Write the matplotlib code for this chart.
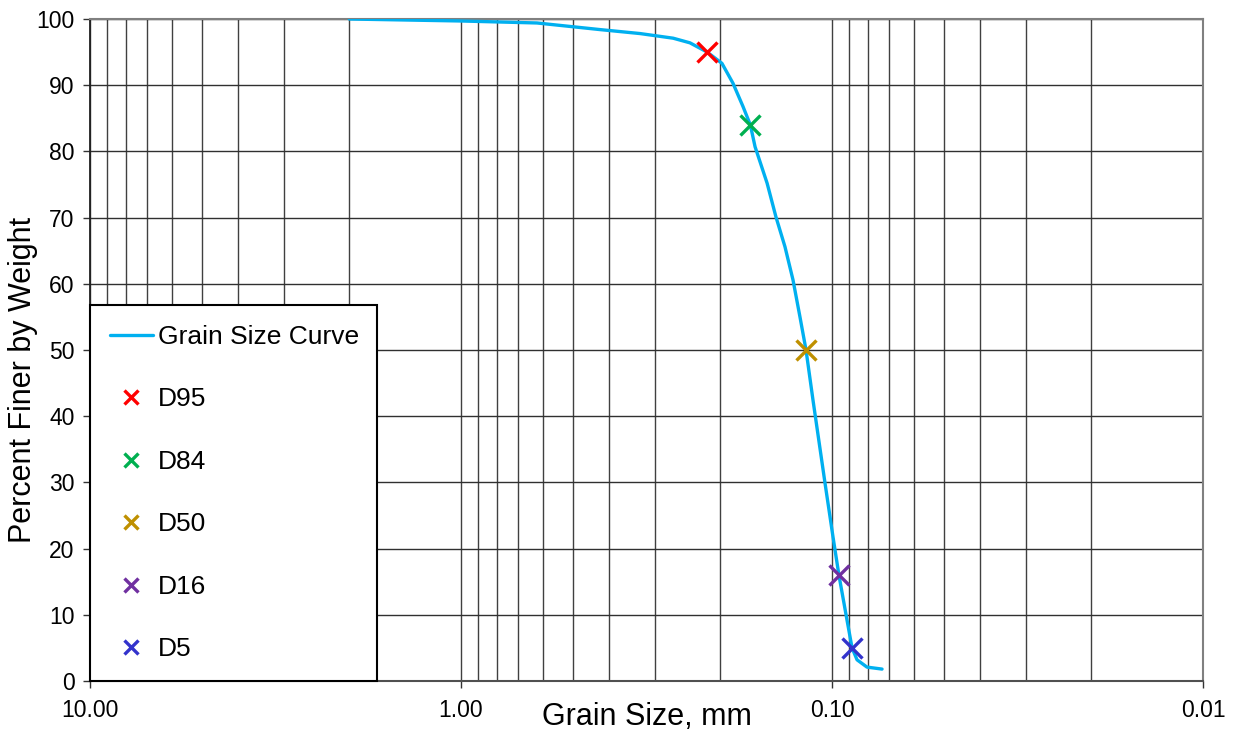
import numpy as np
import matplotlib
matplotlib.use("Agg")
import matplotlib.pyplot as plt
from matplotlib.ticker import LogLocator, FixedLocator, FixedFormatter, NullFormatter

plt.rcParams['font.family'] = ['Liberation Sans', 'DejaVu Sans']

# grain size curve (mm, % finer)
curve_size = [2.0, 1.0, 0.624, 0.422, 0.329, 0.268, 0.2415, 0.217, 0.198, 0.1849,
              0.1738, 0.166, 0.1612, 0.1496, 0.1416, 0.1339, 0.1274, 0.122,
              0.1175, 0.1125, 0.1045, 0.0994, 0.0958, 0.0911, 0.0883, 0.0856,
              0.0805, 0.0733]
curve_pct = [100, 99.7, 99.4, 98.4, 97.8, 97.1, 96.4, 95.0, 93.3, 90.3,
             86.8, 84.0, 80.7, 75.2, 70.1, 65.6, 60.6, 55.0,
             50.0, 42.4, 30.0, 21.8, 16.0, 9.2, 5.0, 3.2,
             2.1, 1.8]

# characteristic diameters
d_labels = ['D95', 'D84', 'D50', 'D16', 'D5']
d_size = [0.217, 0.166, 0.1175, 0.0958, 0.0883]
d_pct = [95, 84, 50, 16, 5]
d_colors = ['#FF0000', '#00B050', '#BF9000', '#7030A0', '#3333CC']

x_ticks = [10, 1, 0.1, 0.01]
x_ticklabels = ['10.00', '1.00', '0.10', '0.01']

fig = plt.figure(figsize=(12.36, 7.32), dpi=100)
ax = fig.add_axes([90 / 1236, 1 - 681 / 732, 1113 / 1236, 662 / 732])

ax.set_xscale('log')
ax.set_xlim(10, 0.01)
ax.set_ylim(0, 100)

ax.plot(curve_size, curve_pct, color='#00B0F0', lw=2.4, label='Grain Size Curve',
        solid_capstyle='round', solid_joinstyle='round', zorder=3)
for lab, s, p, c in zip(d_labels, d_size, d_pct, d_colors):
    ax.plot([s], [p], linestyle='none', marker='x', markersize=15, mew=2.4,
            color=c, label=lab, zorder=4)

# ticks and grid
ax.xaxis.set_major_locator(FixedLocator(x_ticks))
ax.xaxis.set_major_formatter(FixedFormatter(x_ticklabels))
ax.xaxis.set_minor_locator(LogLocator(base=10, subs=np.arange(2, 10)))
ax.xaxis.set_minor_formatter(NullFormatter())
ax.set_yticks(np.arange(0, 101, 10))
ax.tick_params(axis='both', which='major', direction='out', length=5, width=1,
               labelsize=16.5, color='#333333')
ax.tick_params(axis='x', which='minor', length=0)
ax.tick_params(axis='x', pad=8)
ax.tick_params(axis='y', pad=6)
ax.grid(True, which='both', axis='x', color='#404040', lw=1.0)
ax.grid(True, which='major', axis='y', color='#303030', lw=1.0)
ax.set_axisbelow(True)

for side in ['top', 'right']:
    ax.spines[side].set_color('#808080')
    ax.spines[side].set_linewidth(1.5)
ax.spines['left'].set_color('#202020')
ax.spines['bottom'].set_color('#505050')
ax.spines['left'].set_linewidth(1.3)
ax.spines['bottom'].set_linewidth(1.5)

ax.set_xlabel('Grain Size, mm', fontsize=22)
ax.set_ylabel('Percent Finer by Weight', fontsize=22)
ax.xaxis.set_label_coords(0.5, -0.031)
ax.yaxis.set_label_coords(-0.047, 0.455)

leg = ax.legend(loc='lower left', bbox_to_anchor=(0, 0, 0.258, 0.568),
                mode='expand', borderaxespad=0, fontsize=19, frameon=True,
                fancybox=False, framealpha=1, edgecolor='black',
                handlelength=1.63, handletextpad=0.2, labelspacing=1.46,
                borderpad=0.74, markerscale=0.65)
leg.get_frame().set_linewidth(1.5)
leg.set_zorder(5)

fig.savefig('out.png', dpi=100)
